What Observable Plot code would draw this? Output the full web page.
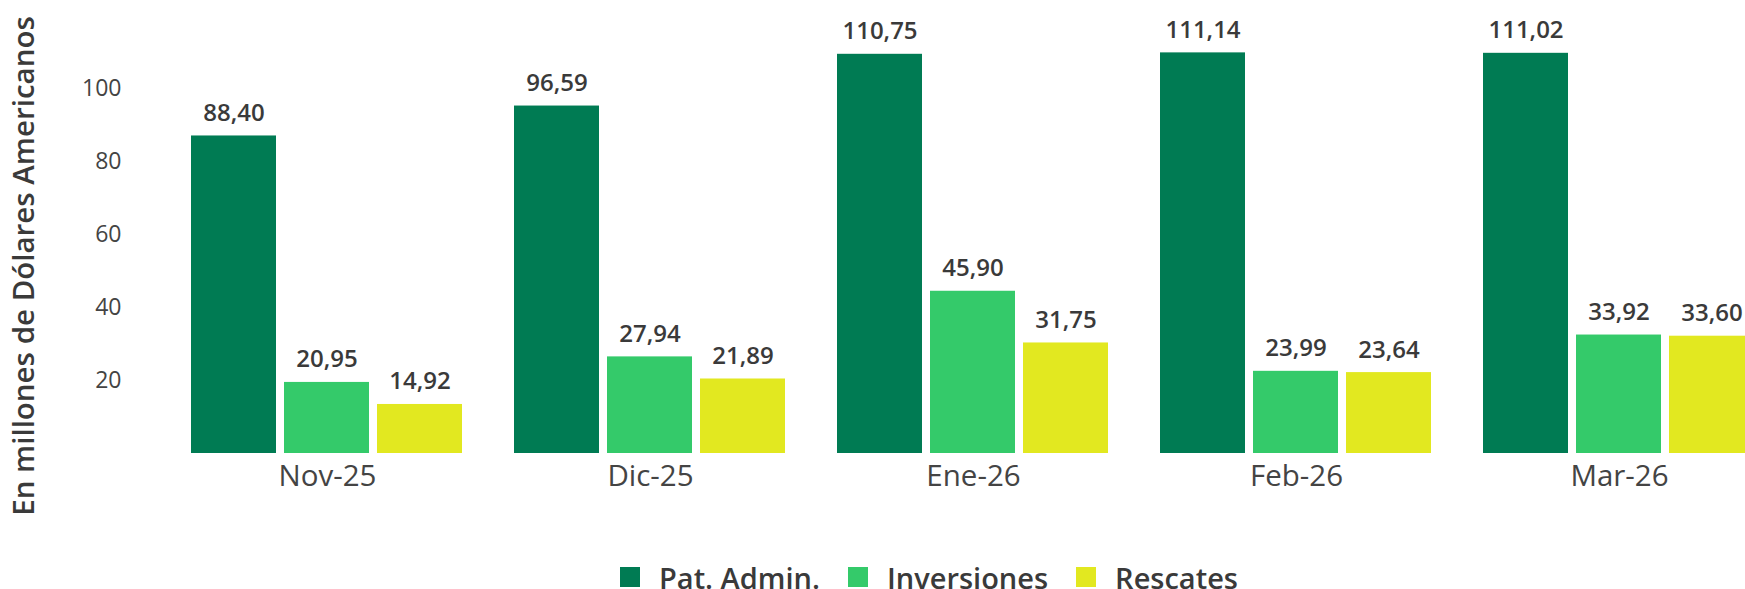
<!DOCTYPE html>
<html><head><meta charset="utf-8">
<script src="https://cdn.jsdelivr.net/npm/d3@7"></script>
<script src="https://cdn.jsdelivr.net/npm/@observablehq/plot@0.6"></script>
<style>
html,body{margin:0;padding:0;background:#fff;overflow:hidden;width:1745px;height:589px}
#chart svg{display:block;overflow:hidden}
.legend{display:flex;align-items:center;height:44px;padding-left:620px;font-family:"Open Sans",sans-serif;font-size:29px;font-weight:600;color:#3a3a3a;line-height:1;white-space:nowrap}
.item{display:flex;align-items:center;margin-right:28px}
.sw{display:block;width:20px;height:20px;margin-right:19px}
</style></head><body><div id="chart"></div>
<script>
const months = ["Nov-25", "Dic-25", "Ene-26", "Feb-26", "Mar-26"];
const series = ["Pat. Admin.", "Inversiones", "Rescates"];
const patAdmin = [88.40, 96.59, 110.75, 111.14, 111.02];
const inversiones = [20.95, 27.94, 45.90, 23.99, 33.92];
const rescates = [14.92, 21.89, 31.75, 23.64, 33.60];
const colors = ["#007b53", "#34ca6a", "#e2e820"];
const yTicks = [20, 40, 60, 80, 100];
const yTitle = "En millones de Dólares Americanos";

const values = [patAdmin, inversiones, rescates];
const data = months.flatMap((m, i) => series.map((s, j) => ({month: m, series: s, value: values[j][i]})));
const fmt = v => v.toFixed(2).replace(".", ",");

const chart = Plot.plot({
  width: 1745, height: 555,
  marginTop: 20, marginBottom: 102, marginLeft: 191, marginRight: -11,
  style: {fontFamily: "'Open Sans', sans-serif", background: "white", overflow: "hidden"},
  fx: {domain: months, paddingInner: 0.1566, paddingOuter: 0, label: null},
  x: {domain: series, paddingInner: 0.0856, paddingOuter: 0, axis: null},
  y: {domain: [1.5, 120], label: null},
  color: {domain: series, range: colors},
  marks: [
    Plot.barY(data, {fx: "month", x: "series", y: "value", fill: "series", clip: true}),
    Plot.text(data, {fx: "month", x: "series", y: "value", text: d => fmt(d.value), dy: -15, lineAnchor: "bottom", fontSize: 24, fontWeight: 600, fill: "#3a3a3a"}),
    Plot.axisY({ticks: yTicks, tickSize: 0, tickPadding: 70, fontSize: 23, dy: -5, fill: "#444", label: null, tickFormat: d => String(d)}),
    Plot.axisFx({anchor: "bottom", tickSize: 0, tickPadding: 12, fontSize: 29.5, fill: "#444", label: null}),
    Plot.text([yTitle], {fx: [months[0]], text: d => d, frameAnchor: "left", rotate: -90, textAnchor: "middle", lineAnchor: "bottom", dx: -158, dy: 29, fontSize: 29.5, fontWeight: 600, fill: "#3a3a3a"})
  ]
});
document.getElementById("chart").append(chart);

const legend = d3.select("body").append("div").attr("class", "legend");
const items = legend.selectAll(".item").data(series).join("div").attr("class", "item");
items.append("span").attr("class", "sw").style("background", (d, i) => colors[i]);
items.append("span").text(d => d);
</script>
</body></html>
